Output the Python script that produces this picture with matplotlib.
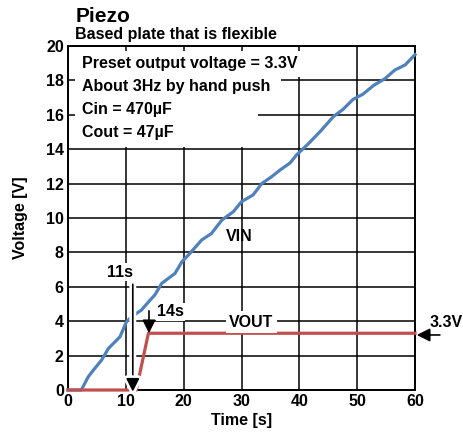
import numpy as np
import matplotlib.pyplot as plt
import matplotlib.patheffects as pe
from matplotlib.patches import Rectangle

plt.rcParams['font.family'] = ['Liberation Sans', 'DejaVu Sans']
plt.rcParams['font.weight'] = 'bold'

# Data
vin_t = [0, 2.3, 3.5, 4.4, 5.8, 7.0, 9.0, 10.1, 11.0, 12.7, 14.2, 15.0, 16.2, 18.5,
         19.7, 21.1, 23.1, 24.8, 26.6, 28.6, 30.0, 32.0, 33.5, 35.2, 36.7, 38.4,
         39.5, 41.8, 43.8, 45.9, 47.5, 49.3, 51.0, 52.8, 54.8, 56.5, 58.3, 60.0]
vin_v = [0, 0, 0.77, 1.16, 1.74, 2.42, 3.1, 3.97, 4.26, 4.65, 5.23, 5.52, 6.2, 6.78,
         7.46, 7.95, 8.72, 9.1, 9.88, 10.37, 10.95, 11.34, 12.0, 12.4, 12.8, 13.2,
         13.66, 14.4, 15.1, 15.9, 16.3, 16.9, 17.2, 17.7, 18.1, 18.6, 18.9, 19.5]
vout_t = [0, 11.8, 13.9, 60]
vout_v = [0, 0, 3.3, 3.3]

notes = ['Preset output voltage = 3.3V', 'About 3Hz by hand push',
         'Cin = 470\u00b5F', 'Cout = 47\u00b5F']
x_ticks = [0, 10, 20, 30, 40, 50, 60]
y_ticks = [0, 2, 4, 6, 8, 10, 12, 14, 16, 18, 20]

FS = 11.5

fig = plt.figure(figsize=(4.64, 4.32), dpi=100)
ax = fig.add_axes([0.1466, 0.0972, 0.7478, 0.7963])

ax.set_xlim(0, 60)
ax.set_ylim(0, 20)
ax.set_xticks(x_ticks)
ax.set_yticks(y_ticks)
ax.tick_params(length=0, labelsize=FS, pad=3)
ax.grid(True, color='black', linewidth=1.1)
ax.set_axisbelow(True)
for s in ax.spines.values():
    s.set_linewidth(1.4)

# white boxes behind the notes
for x0, y0, w, h in [(0.020, 0.910, 0.649, 0.075), (0.020, 0.846, 0.594, 0.066),
                     (0.020, 0.706, 0.528, 0.142)]:
    ax.add_patch(Rectangle((x0, y0), w, h, transform=ax.transAxes,
                           facecolor='white', edgecolor='none', zorder=1.5))

ax.plot(vin_t, vin_v, color='#4f81bd', lw=2.3, clip_on=False, zorder=3)
ax.plot(vout_t, vout_v, color='#c0504d', lw=2.3, clip_on=False, zorder=3)

for i, txt in enumerate(notes):
    ax.text(0.04, 0.948 - i * 0.0665, txt, transform=ax.transAxes, fontsize=FS,
            fontweight='bold', va='center', ha='left', zorder=4)

ax.text(29.6, 8.95, 'VIN', fontsize=FS, fontweight='bold', ha='center', va='center')
ax.text(31.7, 3.95, 'VOUT', fontsize=FS, fontweight='bold', ha='center', va='center',
        bbox=dict(facecolor='white', edgecolor='none', pad=2.5), zorder=4)
ax.text(9.0, 6.86, '11s', fontsize=FS, fontweight='bold', ha='center', va='center',
        bbox=dict(facecolor='white', edgecolor='none', pad=1), zorder=4)
ax.text(17.7, 4.55, '14s', fontsize=FS, fontweight='bold', ha='center', va='center',
        bbox=dict(facecolor='white', edgecolor='none', pad=1), zorder=4)

a1 = ax.annotate('', xy=(11.2, -0.1), xytext=(11.2, 6.15),
                 arrowprops=dict(arrowstyle='-|>', color='black', lw=1.2,
                                 mutation_scale=20, shrinkA=0, shrinkB=0),
                 annotation_clip=False, zorder=5)
a1.arrow_patch.set_path_effects([pe.Stroke(linewidth=5, foreground='white'), pe.Normal()])

ax.annotate('', xy=(14.0, 3.3), xytext=(14.0, 4.6),
            arrowprops=dict(arrowstyle='-|>', color='black', lw=1.2,
                            mutation_scale=20, shrinkA=0, shrinkB=0),
            annotation_clip=False, zorder=5)
ax.annotate('', xy=(60.3, 3.2), xytext=(64.3, 3.2),
            arrowprops=dict(arrowstyle='-|>', color='black', lw=1.2,
                            mutation_scale=20, shrinkA=0, shrinkB=0),
            annotation_clip=False, zorder=5)
ax.text(65.4, 3.95, '3.3V', fontsize=FS, fontweight='bold', ha='center', va='center',
        clip_on=False)

ax.set_xlabel('Time [s]', fontsize=FS, fontweight='bold', labelpad=3)
ax.set_ylabel('Voltage [V]', fontsize=FS, fontweight='bold', labelpad=13)

fig.text(0.162, 0.962, 'Piezo', fontsize=15, fontweight='bold', va='center')
fig.text(0.162, 0.921, 'Based plate that is flexible', fontsize=FS,
         fontweight='bold', va='center')

fig.savefig('out.png', dpi=100)
